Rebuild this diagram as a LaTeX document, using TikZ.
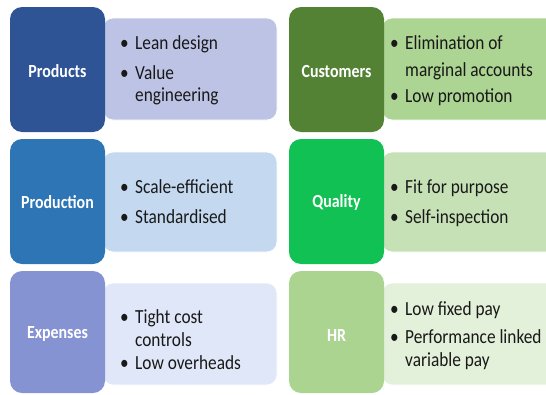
\documentclass[tikz,border=0pt]{standalone}
\usepackage{fontspec}
\setmainfont{Carlito}

% fills of the six category panels
\definecolor{prodD}{RGB}{47,84,150}
\definecolor{prodL}{RGB}{189,195,229}
\definecolor{mfgD}{RGB}{46,117,182}
\definecolor{mfgL}{RGB}{196,216,240}
\definecolor{expD}{RGB}{133,147,211}
\definecolor{expL}{RGB}{223,231,248}
\definecolor{custD}{RGB}{84,130,53}
\definecolor{custL}{RGB}{172,212,146}
\definecolor{qualD}{RGB}{18,193,84}
\definecolor{qualL}{RGB}{199,225,182}
\definecolor{hrD}{RGB}{170,212,143}
\definecolor{hrL}{RGB}{227,240,218}
\definecolor{txt}{RGB}{25,25,25}

\tikzset{
  headbox/.style={rounded corners=12pt, inner sep=0pt, outer sep=0pt},
  listbox/.style={rounded corners=10pt, draw=white, line width=0.8pt},
  head/.style={text=white, font=\bfseries\fontsize{18.5}{22}\selectfont,
    inner sep=0pt, xscale=0.86, transform shape},
  entry/.style={text=txt, font=\fontsize{20}{24}\selectfont, anchor=base west,
    inner sep=0pt, xscale=0.865, transform shape},
  dot/.style={entry}
}

\begin{document}
\begin{tikzpicture}[x=1pt, y=-1pt]
\useasboundingbox (0,0) rectangle (546,394);
\clip (0,0) rectangle (546,394);

% ---- list panels (behind the heading tiles) ----
\path[listbox, fill=prodL] (103,18)  rectangle (277,120);
\path[listbox, fill=mfgL]  (103,152) rectangle (277,252);
\path[listbox, fill=expL]  (103,283) rectangle (277,385);
\path[listbox, fill=custL] (382,18)  rectangle (556,120);
\path[listbox, fill=qualL] (382,152) rectangle (556,252);
\path[listbox, fill=hrL]   (382,283) rectangle (556,385);

% ---- heading tiles ----
\path[headbox, fill=prodD] (10,7)    rectangle (105,132);
\path[headbox, fill=mfgD]  (10,139)  rectangle (105,264);
\path[headbox, fill=expD]  (10,271)  rectangle (105,393);
\path[headbox, fill=custD] (289,7)   rectangle (384,132);
\path[headbox, fill=qualD] (289,139) rectangle (384,264);
\path[headbox, fill=hrD]   (289,271) rectangle (384,393);

\node[head] (products)   at (57.5,71)  {Products};
\node[head] (production) at (57.5,202) {Production};
\node[head] (expenses)   at (57.5,334) {Expenses};
\node[head] (customers)  at (336.5,71)  {Customers};
\node[head] (quality)    at (336.5,202) {Quality};
\node[head] (hr)         at (336.5,335) {HR};

% ---- Products ----
\node[dot]   (pb1) at (120,49)  {•};
\node[entry] (p1)  at (135,49)  {Lean design};
\node[dot]   (pb2) at (120,79)  {•};
\node[entry] (p2a) at (135,79)  {Value};
\node[entry] (p2b) at (135,101) {engineering};

% ---- Production ----
\node[dot]   (mb1) at (120,193) {•};
\node[entry] (m1)  at (135,193) {Scale-efficient};
\node[dot]   (mb2) at (120,223) {•};
\node[entry] (m2)  at (135,223) {Standardised};

% ---- Expenses ----
\node[dot]   (eb1) at (120,323) {•};
\node[entry] (e1a) at (135,323) {Tight cost};
\node[entry] (e1b) at (135,346) {controls};
\node[dot]   (eb2) at (120,369) {•};
\node[entry] (e2)  at (135,369) {Low overheads};

% ---- Customers ----
\node[dot]   (cb1) at (390,49)  {•};
\node[entry] (c1a) at (405,49)  {Elimination of};
\node[entry] (c1b) at (405,76)  {marginal accounts};
\node[dot]   (cb2) at (390,102) {•};
\node[entry] (c2)  at (405,102) {Low promotion};

% ---- Quality ----
\node[dot]   (qb1) at (390,193) {•};
\node[entry] (q1)  at (405,193) {Fit for purpose};
\node[dot]   (qb2) at (390,223) {•};
\node[entry] (q2)  at (405,223) {Self-inspection};

% ---- HR ----
\node[dot]   (hb1) at (390,315) {•};
\node[entry] (h1)  at (405,315) {Low fixed pay};
\node[dot]   (hb2) at (390,343) {•};
\node[entry] (h2a) at (405,343) {Performance linked};
\node[entry] (h2b) at (405,366) {variable pay};
\end{tikzpicture}
\end{document}
